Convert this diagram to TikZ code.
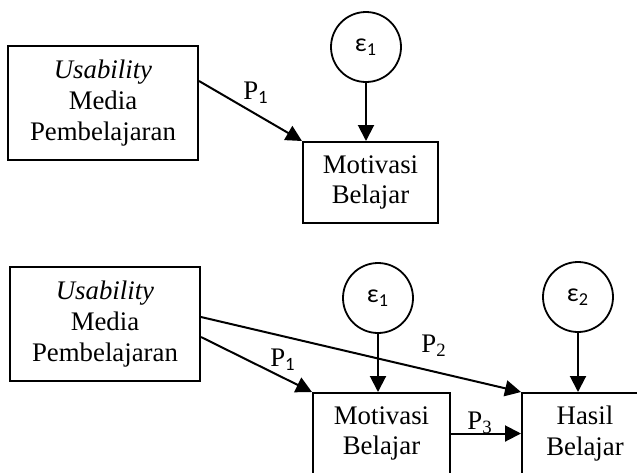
\documentclass[tikz,border=0pt]{standalone}
\usepackage{fontspec}
\setmainfont{Liberation Serif}
\newfontfamily\carlito{Carlito}
\usetikzlibrary{arrows.meta}

\begin{document}
\begin{tikzpicture}[x=0.5pt,y=-0.5pt]
    \tikzset{box/.style={draw,line width=1pt,align=center,inner sep=0pt,font=\fontsize{13.4}{15.4}\selectfont}}
    \tikzset{err/.style={draw,circle,line width=0.9pt,minimum size=35pt,inner sep=0pt,font=\carlito\fontsize{13}{13}\selectfont}}
    \tikzset{arr/.style={line width=1pt,-{Triangle[width=8pt,length=8pt]}}}
    \tikzset{lbl/.style={inner sep=0pt,font=\fontsize{13.4}{15}\selectfont}}
    \useasboundingbox (0,0) rectangle (637,472);
    \clip (0,0) rectangle (637,472);
    % model 1
    \node[box,minimum width=95pt,minimum height=57pt] (use1) at (103,103) {\textit{Usability}\\Media\\Pembelajaran};
    \node[box,minimum width=67.5pt,minimum height=40.5pt] (mot1) at (370.5,182.5) {Motivasi\\Belajar};
    \node[err] (eps1) at (366,47) {ε\textsubscript{1}};
    \draw[arr] ([yshift=11pt]use1.east) -- (mot1.north west);
    \draw[arr] (eps1.south) -- (eps1.south |- mot1.north);
    \node[lbl] (p1a) at (256,93) {P\textsubscript{\carlito 1}};
    % model 2
    \node[box,minimum width=95pt,minimum height=57pt] (use2) at (105,324) {\textit{Usability}\\Media\\Pembelajaran};
    \node[box,minimum width=68.5pt,minimum height=40.5pt] (mot2) at (381.5,433.5) {Motivasi\\Belajar};
    \node[box,minimum width=63pt,minimum height=40.5pt] (has) at (585,433.5) {Hasil\\Belajar};
    \node[err] (eps2) at (378,298) {ε\textsubscript{1}};
    \node[err] (eps3) at (578,297) {ε\textsubscript{2}};
    \draw[arr] ([yshift=-6.5pt]use2.east) -- (mot2.north west);
    \draw[arr] ([yshift=3.5pt]use2.east) -- (has.north west);
    \draw[arr] (mot2.east) -- (has.west);
    \draw[arr] (eps2.south) -- (eps2.south |- mot2.north);
    \draw[arr] (eps3.south) -- (eps3.south |- has.north);
    \node[lbl] (p1b) at (283,360) {P\textsubscript{\carlito 1}};
    \node[lbl] (p2) at (434,346) {P\textsubscript{2}};
    \node[lbl] (p3) at (480,423) {P\textsubscript{3}};
\end{tikzpicture}
\end{document}
